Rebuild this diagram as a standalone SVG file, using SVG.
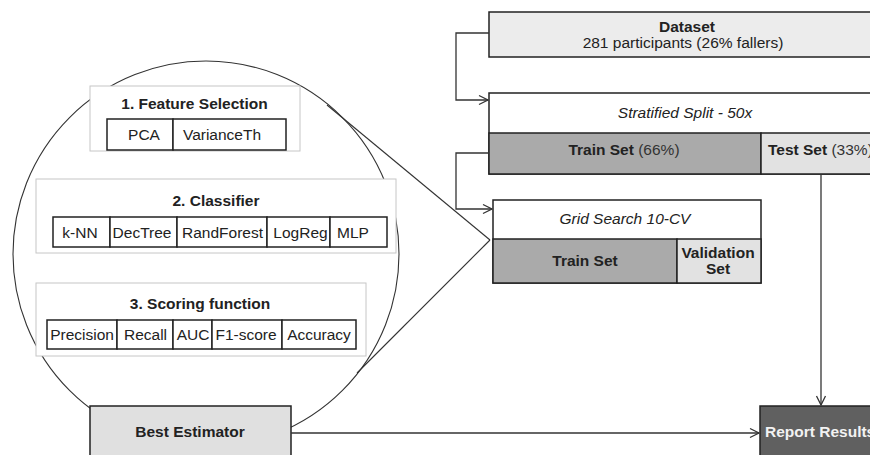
<svg xmlns="http://www.w3.org/2000/svg" width="870" height="455" viewBox="0 0 870 455">
<style>
text{font-family:"Liberation Sans",Arial,sans-serif;font-size:15.5px;fill:#222;text-anchor:middle}
.b{font-weight:bold}
.i{font-style:italic}
.grp{fill:#fff;stroke:#c6c6c6;stroke-width:1}
.cell{fill:#fff;stroke:#222;stroke-width:1.5}
.box{stroke:#222;stroke-width:1.5}
.conn{fill:none;stroke:#333;stroke-width:1.3}
.zoom{fill:none;stroke:#333;stroke-width:1.1}
</style>
<defs>
<marker id="arr" markerUnits="userSpaceOnUse" markerWidth="12" markerHeight="12" refX="10" refY="6" orient="auto">
<path d="M1,1.5 L10,6 L1,10.5" fill="none" stroke="#333" stroke-width="1.3"/>
</marker>
</defs>

<g id="zoom-circle">
<circle cx="206" cy="254" r="193" class="zoom"/>
<line x1="327" y1="105" x2="490" y2="240" class="zoom"/>
<line x1="490" y1="240" x2="357" y2="373" class="zoom"/>
</g>

<g id="feature-selection">
<rect x="90" y="86" width="210" height="65" class="grp"/>
<text x="194.5" y="108.5" class="b">1. Feature Selection</text>
<rect x="107" y="119" width="66" height="31" class="cell"/>
<rect x="173" y="119" width="113" height="31" class="cell"/>
<text x="144" y="140">PCA</text>
<text x="222" y="140">VarianceTh</text>
</g>

<g id="classifier">
<rect x="36" y="179" width="360" height="74" class="grp"/>
<text x="216" y="205.5" class="b">2. Classifier</text>
<rect x="53" y="217" width="57" height="30" class="cell"/>
<rect x="110" y="217" width="67" height="30" class="cell"/>
<rect x="177" y="217" width="90" height="30" class="cell"/>
<rect x="267" y="217" width="63" height="30" class="cell"/>
<rect x="330" y="217" width="57" height="30" class="cell"/>
<text x="80" y="237.5">k-NN</text>
<text x="142" y="237.5">DecTree</text>
<text x="222.5" y="237.5">RandForest</text>
<text x="300.5" y="237.5">LogReg</text>
<text x="353" y="237.5">MLP</text>
</g>

<g id="scoring">
<rect x="36" y="283" width="330" height="73" class="grp"/>
<text x="200" y="308.5" class="b">3. Scoring function</text>
<rect x="47" y="320" width="70" height="29" class="cell"/>
<rect x="117" y="320" width="56" height="29" class="cell"/>
<rect x="173" y="320" width="39" height="29" class="cell"/>
<rect x="212" y="320" width="70" height="29" class="cell"/>
<rect x="282" y="320" width="74" height="29" class="cell"/>
<text x="82" y="340">Precision</text>
<text x="145.5" y="340">Recall</text>
<text x="193" y="340">AUC</text>
<text x="246" y="340">F1-score</text>
<text x="319" y="340">Accuracy</text>
</g>

<g id="best-estimator">
<rect x="90" y="406" width="201" height="60" fill="#e0e0e0" class="box"/>
<text x="190" y="437" class="b">Best Estimator</text>
</g>

<g id="dataset">
<rect x="489" y="12" width="400" height="45" fill="#ececec" class="box"/>
<text x="687" y="31.5" class="b">Dataset</text>
<text x="683" y="48">281 participants (26% fallers)</text>
</g>

<g id="stratified-split">
<rect x="489" y="93" width="400" height="81" fill="#fff" class="box"/>
<text x="685" y="118" class="i">Stratified Split - 50x</text>
<rect x="489" y="133" width="272" height="41" fill="#aaaaaa" class="box"/>
<rect x="761" y="133" width="128" height="41" fill="#e2e2e2" class="box"/>
<text x="624" y="155"><tspan class="b">Train Set</tspan><tspan fill="#333"> (66%)</tspan></text>
<text x="768" y="155" style="text-anchor:start"><tspan class="b">Test Set</tspan><tspan fill="#333"> (33%)</tspan></text>
</g>

<g id="grid-search">
<rect x="493" y="200" width="268" height="83" fill="#fff" class="box"/>
<text x="625" y="224" class="i">Grid Search 10-CV</text>
<rect x="493" y="239" width="184" height="44" fill="#aaaaaa" class="box"/>
<rect x="677" y="239" width="84" height="44" fill="#e2e2e2" class="box"/>
<text x="585" y="266" class="b">Train Set</text>
<text x="718" y="258" class="b">Validation</text>
<text x="718" y="274" class="b">Set</text>
</g>

<g id="report-results">
<rect x="760" y="406" width="130" height="60" fill="#606060" class="box"/>
<text x="765" y="437" class="b" style="text-anchor:start;fill:#f2f2f2">Report Results</text>
</g>

<g id="connectors">
<path d="M489,33 H456 V100 H488" class="conn" marker-end="url(#arr)"/>
<path d="M489,153 H456 V209 H492" class="conn" marker-end="url(#arr)"/>
<path d="M821,174 V405" class="conn" marker-end="url(#arr)"/>
<path d="M291,433 H759" class="conn" marker-end="url(#arr)"/>
</g>
</svg>
